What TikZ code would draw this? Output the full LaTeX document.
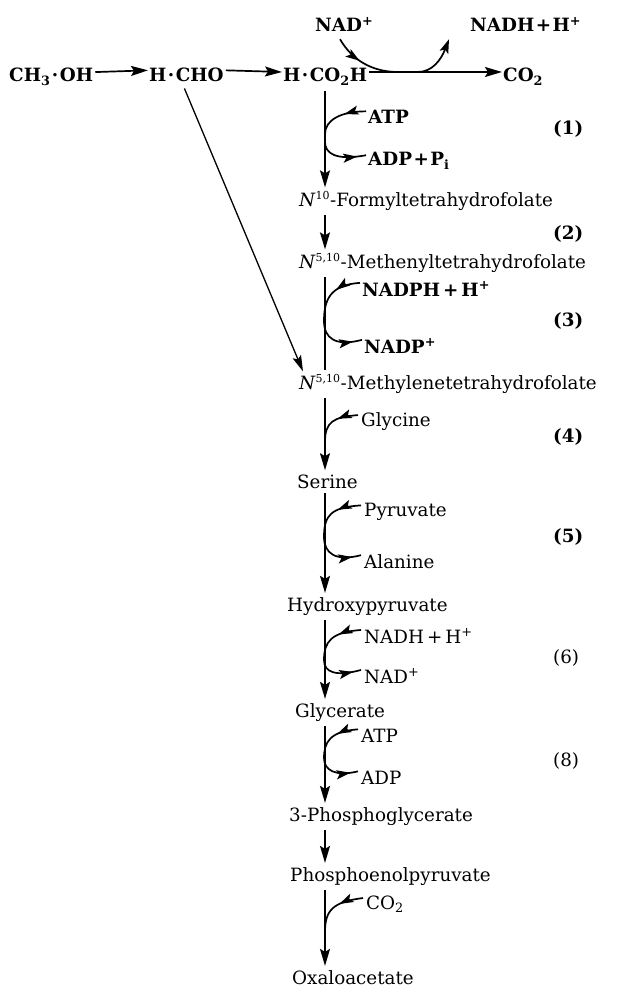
\documentclass[tikz,border=0pt]{standalone}
\usepackage{fontspec}
\setmainfont{DejaVu Serif}
\usetikzlibrary{arrows.meta,decorations.markings,calc}
\newcommand{\sdot}{\kern1.5pt\textperiodcentered\kern1.5pt}
\newcommand{\nsup}[1]{\textsuperscript{\fontsize{11}{12}\selectfont #1}}
\newcommand{\pl}{\kern1.5pt+\kern1.5pt}
\begin{document}
\begin{tikzpicture}[x=1pt,y=-1pt,
  lbl/.style={anchor=base west, inner sep=0pt, font=\fontsize{18.3}{21}\selectfont},
  blbl/.style={anchor=base west, inner sep=0pt, font=\fontsize{18.3}{21}\selectfont\bfseries},
  mainarr/.style={line width=1.7pt, -{Stealth[length=17pt,width=10pt,inset=3pt]}},
  mainline/.style={line width=1.7pt},
  diagarr/.style={line width=1.3pt, -{Stealth[length=16pt,width=9pt,inset=3pt]}},
  sidein/.style={line width=1.7pt, decoration={markings, mark=at position 0.42 with {\arrow{Stealth[length=14pt,width=9pt,inset=3pt]}}}, postaction={decorate}},
  sideout/.style={line width=1.7pt, decoration={markings, mark=at position 0.82 with {\arrow{Stealth[length=14pt,width=9pt,inset=3pt]}}}, postaction={decorate}},
  sideoutend/.style={line width=1.7pt, -{Stealth[length=14pt,width=9pt,inset=3pt]}}
]
\useasboundingbox (0,0) rectangle (628,987);
\coordinate (ax) at (325,0);
% top row
\node[blbl] (nadtop) at (315,32) {NAD\textsuperscript{+}};
\node[blbl] (nadhtop) at (470,32) {NADH\pl H\textsuperscript{+}};
\node[blbl] (ch3oh) at (9,82) {CH\textsubscript{3}\sdot OH};
\node[blbl] (hcho) at (149,82) {H\sdot CHO};
\node[blbl] (hco2h) at (283,82) {H\sdot CO\textsubscript{2}H};
\node[blbl] (co2) at (503,82) {CO\textsubscript{2}};
\coordinate (topline) at ([yshift=5pt]hco2h.east);
% step 1
\node[blbl] (atpa) at (368,124) {ATP};
\node[blbl] (adpa) at (368,166) {ADP\pl P\textsubscript{i}};
\node[blbl] (sa) at (553,135) {(1)};
\node[lbl] (nten) at (299,206) {\textit{N}\nsup{10}-Formyltetrahydrofolate};
\node[blbl] (sb) at (553,239) {(2)};
\node[lbl] (methenyl) at (299,268) {\textit{N}\nsup{5,10}-Methenyltetrahydrofolate};
\node[blbl] (nadph) at (362,296) {NADPH\,+\,H\textsuperscript{+}};
\node[blbl] (sc) at (553,326) {(3)};
\node[blbl] (nadp) at (364,353) {NADP\textsuperscript{+}};
\node[lbl] (methylene) at (299,389) {\textit{N}\nsup{5,10}-Methylenetetrahydrofolate};
\node[lbl] (gly) at (361,426) {Glycine};
\node[blbl] (sd) at (553,442) {(4)};
\node[lbl] (ser) at (297,488) {Serine};
\node[lbl] (pyr) at (364,516) {Pyruvate};
\node[blbl] (se) at (553,542) {(5)};
\node[lbl] (ala) at (364,568) {Alanine};
\node[lbl] (hp) at (287,611) {Hydroxypyruvate};
\node[lbl] (nadhb) at (364,643) {NADH\,+\,H\textsuperscript{+}};
\node[lbl] (sf) at (553,663) {(6)};
\node[lbl] (nadb) at (364,683) {NAD\textsuperscript{+}};
\node[lbl] (glyc) at (295,717) {Glycerate};
\node[lbl] (atpb) at (361,742) {ATP};
\node[lbl] (sg) at (553,766) {(8)};
\node[lbl] (adpb) at (361,784) {ADP};
\node[lbl] (pg) at (289,821) {3-Phosphoglycerate};
\node[lbl] (pep) at (290,881) {Phosphoenolpyruvate};
\node[lbl] (cotwo) at (366,909) {CO\textsubscript{2}};
\node[lbl] (oaa) at (292,984) {Oxaloacetate};

% top horizontal arrows
\draw[mainarr] ([xshift=2pt,yshift=5pt]ch3oh.east) -- ([xshift=-1pt,yshift=5pt]hcho.west);
\draw[mainarr] ([xshift=2pt,yshift=5pt]hcho.east) -- ([xshift=-1pt,yshift=5pt]hco2h.west);
\draw[mainarr] ([xshift=2pt]topline) -- ([xshift=-1pt,yshift=5pt]co2.west);
% NAD curve
\draw[sidein] ([xshift=25pt,yshift=-7pt]nadtop.south west) .. controls (352,60) and (372,0 |- topline) .. (398,0 |- topline);
\draw[sideoutend] (398,0 |- topline) -- (418,0 |- topline) .. controls (432,0 |- topline) and (441,60) .. ([xshift=-21pt,yshift=-7pt]nadhtop.south west);

% diagonal
\draw[diagarr] ([xshift=-2pt,yshift=-6pt]hcho.south) -- ([xshift=4pt,yshift=3pt]methylene.north west);

% vertical chain
\draw[mainarr] ([yshift=-5pt]hco2h.south -| ax) -- ([yshift=4pt]nten.north -| ax);
\draw[mainarr] ([yshift=-5pt]nten.south -| ax) -- ([yshift=4pt]methenyl.north -| ax);
\draw[mainline] ([yshift=-5pt]methenyl.south -| ax) -- ([yshift=4pt]methylene.north -| ax);
\draw[mainarr] ([yshift=-5pt]methylene.south -| ax) -- ([yshift=4pt]ser.north -| ax);
\draw[mainarr] ([yshift=-5pt]ser.south -| ax) -- ([yshift=4pt]hp.north -| ax);
\draw[mainarr] ([yshift=-5pt]hp.south -| ax) -- ([yshift=4pt]glyc.north -| ax);
\draw[mainarr] ([yshift=-5pt]glyc.south -| ax) -- ([yshift=4pt]pg.north -| ax);
\draw[mainarr] ([yshift=-5pt]pg.south -| ax) -- ([yshift=4pt]pep.north -| ax);
\draw[mainarr] ([yshift=-5pt]pep.south -| ax) -- ([yshift=4pt]oaa.north -| ax);

% side arrows
\draw[sidein] ([xshift=-2pt,yshift=6pt]atpa.west) .. controls +(-25,0) and (325,120) .. (325,134);
\draw[sideout] (325,142) .. controls (325,153) and (335,161) .. ([xshift=-2pt,yshift=6pt]adpa.west);

\draw[sidein] ([xshift=-2pt,yshift=6pt]nadph.west) .. controls +(-30,2) and (324,300) .. (324,321);
\draw[sideout] (324,321) .. controls (324,338) and (335,347) .. ([xshift=-2pt,yshift=6pt]nadp.west);

\draw[sidein] ([xshift=-3pt,yshift=6pt]gly.west) .. controls +(-25,2) and (325,422) .. (325,442);

\draw[sidein] ([xshift=-3pt,yshift=6pt]pyr.west) .. controls +(-30,2) and (324,515) .. (324,537);
\draw[sideout] (324,537) .. controls (324,553) and (335,562) .. ([xshift=-3pt,yshift=6pt]ala.west);

\draw[sidein] ([xshift=-3pt,yshift=6pt]nadhb.west) .. controls +(-30,2) and (324,642) .. (324,660);
\draw[sideout] (324,660) .. controls (324,672) and (335,677) .. ([xshift=-3pt,yshift=6pt]nadb.west);

\draw[sidein] ([xshift=-3pt,yshift=6pt]atpb.west) .. controls +(-28,2) and (324,742) .. (324,758);
\draw[sideout] (324,758) .. controls (324,770) and (335,777) .. ([xshift=-3pt,yshift=6pt]adpb.west);

\draw[sidein] ([xshift=-3pt,yshift=6pt]cotwo.west) .. controls +(-30,4) and (325,910) .. (325,932);
\end{tikzpicture}
\end{document}
